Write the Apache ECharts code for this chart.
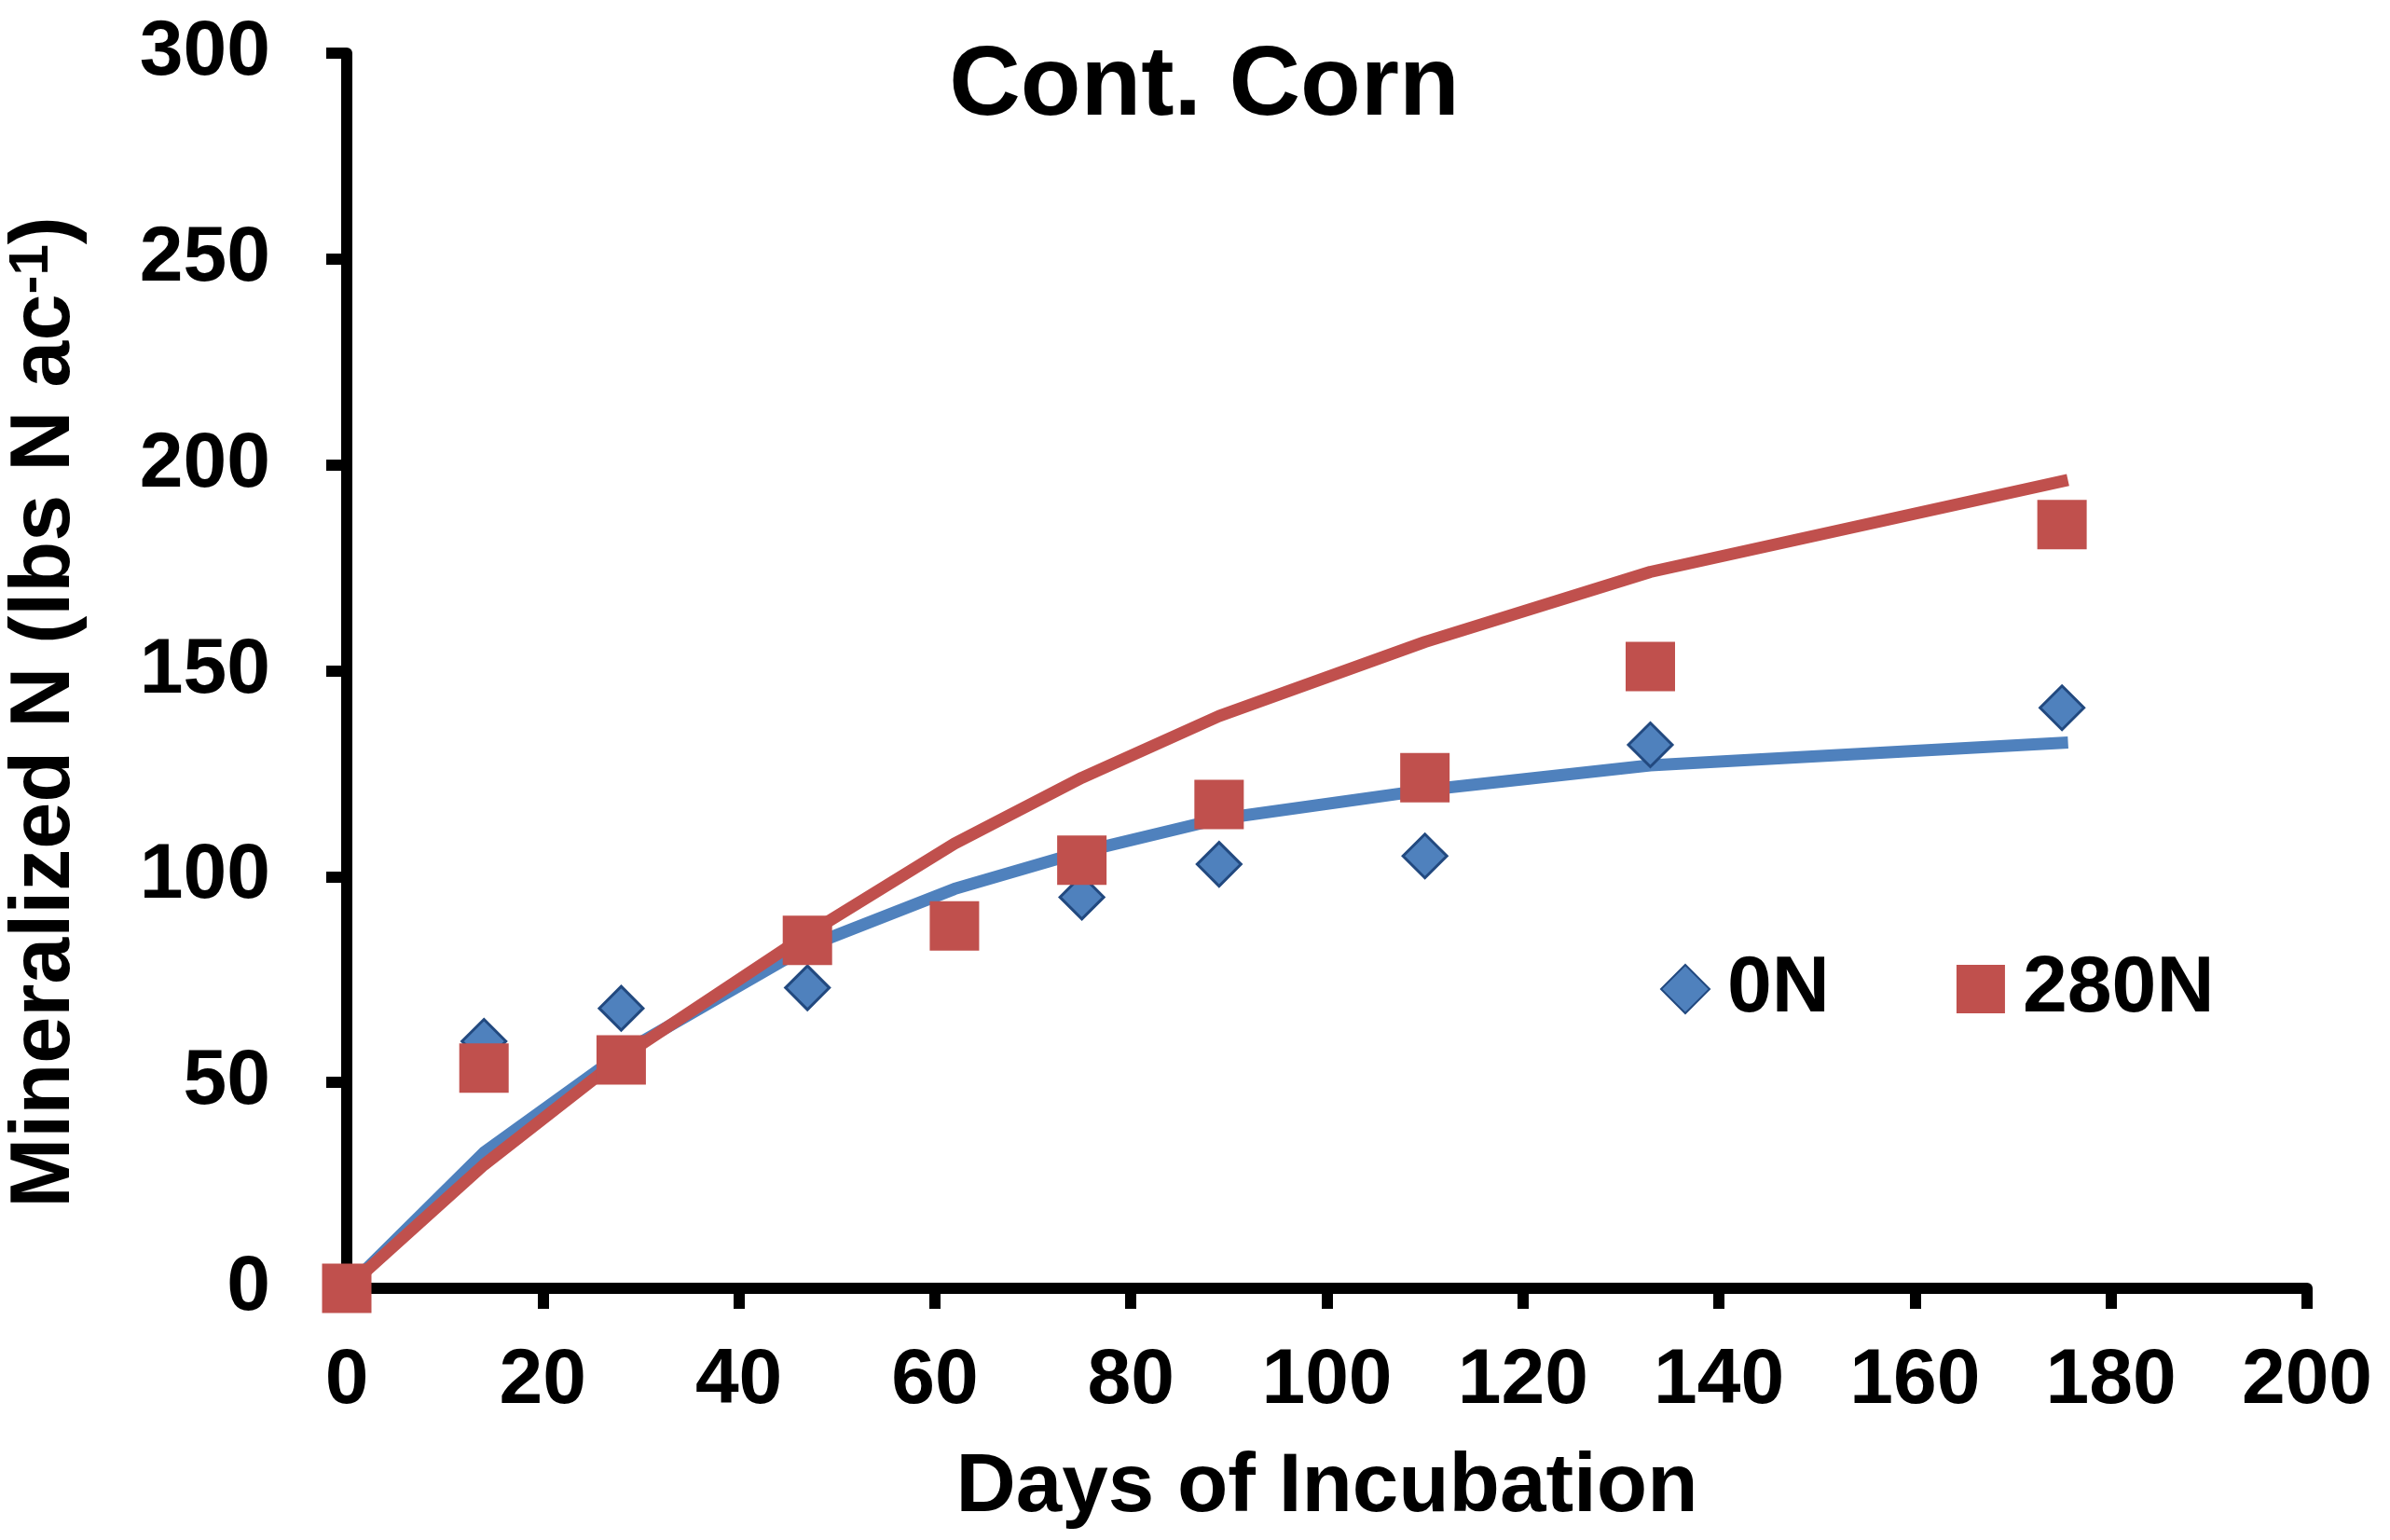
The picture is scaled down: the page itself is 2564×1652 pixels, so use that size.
<!DOCTYPE html>
<html lang="en">
<head>
<meta charset="UTF-8">
<title>Cont. Corn</title>
<script src="https://cdn.jsdelivr.net/npm/echarts@6/dist/echarts.min.js"></script>
<style>
  html, body { margin: 0; padding: 0; background: #fff; }
  #chart { width: 2564px; height: 1652px; }
</style>
</head>
<body>
<div id="chart"></div>
<script>
  // measured points
  var days0N = [0, 14, 28, 47, 75, 89, 110, 133, 175];
  var obs0N = [0, 60, 68, 73, 95, 103, 105, 132, 141];
  var days280N = [0, 14, 28, 47, 62, 75, 89, 110, 133, 175];
  var obs280N = [0, 53.5, 55.5, 84.5, 88, 104, 117.5, 124, 151, 185.5];

  // fitted curves
  var fitDays = [0, 14, 28, 47, 62, 75, 89, 110, 133, 175];
  var fit0N = [0, 33, 57, 83, 97, 106, 114, 121, 127, 132.5];
  var fit280N = [0, 30, 56, 86, 108, 124, 139, 157, 174, 196];

  function pairs(xs, ys) {
    return xs.map(function (x, i) { return [x, ys[i]]; });
  }

  var FONT = '"Liberation Sans", Arial, sans-serif';
  var BLUE = '#4F81BD', BLUE_EDGE = '#22497F', RED = '#C0504D';

  var chart = echarts.init(document.getElementById('chart'));

  var axisCommon = {
    axisLine: { show: true, lineStyle: { color: '#000', width: 12 } },
    axisTick: { show: true, inside: false, length: 22, lineStyle: { color: '#000', width: 12 } },
    splitLine: { show: false },
    axisLabel: { color: '#000', fontFamily: FONT, fontWeight: 'bold', fontSize: 84 }
  };

  var option = {
    backgroundColor: '#fff',
    animation: false,
    grid: { left: 372, right: 89, top: 57, bottom: 270, containLabel: false },
    xAxis: Object.assign({}, axisCommon, {
      type: 'value', min: 0, max: 200, interval: 20,
      name: 'Days of Incubation', nameLocation: 'middle', nameGap: 170,
      nameTextStyle: { color: '#000', fontFamily: FONT, fontWeight: 'bold', fontSize: 89 },
      axisLabel: Object.assign({}, axisCommon.axisLabel, { margin: 58 })
    }),
    yAxis: Object.assign({}, axisCommon, {
      type: 'value', min: 0, max: 300, interval: 50,
      axisLabel: Object.assign({}, axisCommon.axisLabel, { margin: 82 })
    }),
    legend: {
      data: ['0N', '280N'],
      left: 1776, top: 1013,
      itemWidth: 52, itemHeight: 52, itemGap: 136,
      textStyle: { color: '#000', fontFamily: FONT, fontWeight: 'bold', fontSize: 86, padding: [0, 0, 0, 14] }
    },
    graphic: [
      {
        type: 'text', x: 1292, y: 94,
        style: {
          text: 'Cont. Corn', fill: '#000',
          font: 'bold 106px ' + FONT,
          textAlign: 'center', textVerticalAlign: 'middle',
          align: 'center', verticalAlign: 'middle'
        }
      },
      {
        type: 'text', x: 49, y: 764, rotation: Math.PI / 2,
        style: {
          text: '{a|Mineralized N (lbs N ac}{s|-1}{a|)}',
          fill: '#000',
          textAlign: 'center', textVerticalAlign: 'middle',
          align: 'center', verticalAlign: 'middle',
          rich: {
            a: { fontFamily: FONT, fontWeight: 'bold', fontSize: 90, fill: '#000', color: '#000' },
            s: { fontFamily: FONT, fontWeight: 'bold', fontSize: 60, fill: '#000', color: '#000', verticalAlign: 'top' }
          }
        }
      }
    ],
    series: [
      {
        name: 'fit0N', type: 'line', data: pairs(fitDays, fit0N),
        showSymbol: false, symbol: 'none', smooth: false,
        lineStyle: { color: BLUE, width: 13, cap: 'square', join: 'round' },
        z: 2
      },
      {
        name: 'fit280N', type: 'line', data: pairs(fitDays, fit280N),
        showSymbol: false, symbol: 'none', smooth: false,
        lineStyle: { color: RED, width: 13, cap: 'square', join: 'round' },
        z: 2
      },
      {
        name: '0N', type: 'scatter', data: pairs(days0N, obs0N),
        symbol: 'diamond', symbolSize: 47,
        itemStyle: { color: BLUE, borderColor: BLUE_EDGE, borderWidth: 3, opacity: 1 },
        z: 3
      },
      {
        name: '280N', type: 'scatter', data: pairs(days280N, obs280N),
        symbol: 'rect', symbolSize: 53,
        itemStyle: { color: RED, opacity: 1 },
        z: 4
      }
    ]
  };

  chart.setOption(option);
</script>
</body>
</html>
